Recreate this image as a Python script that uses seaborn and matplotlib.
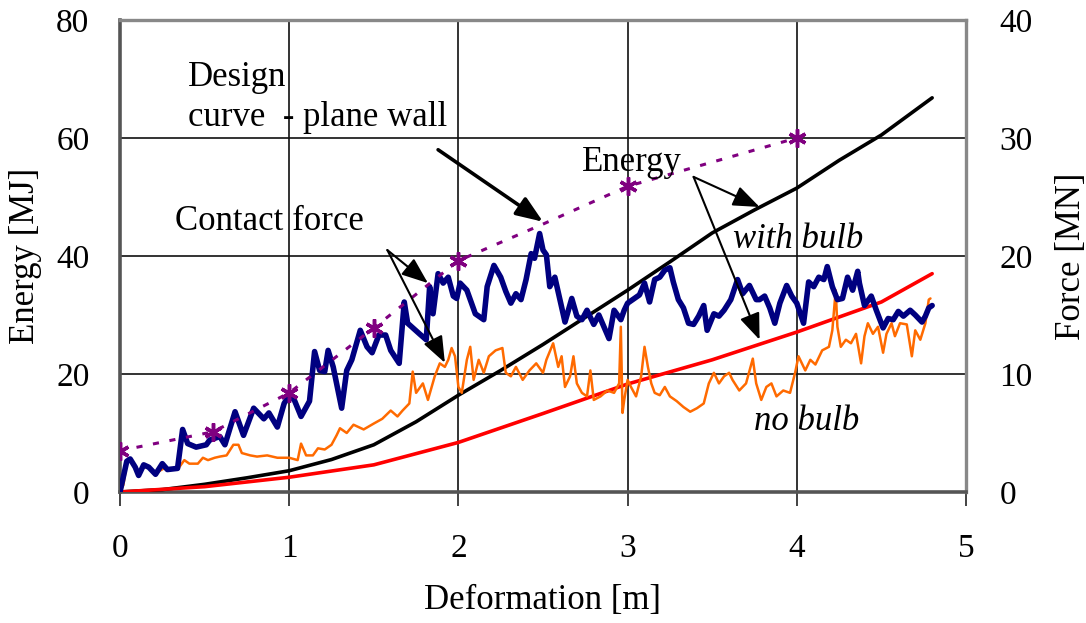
import matplotlib
matplotlib.use("Agg")
import matplotlib.pyplot as plt
import pandas as pd
import seaborn as sns

# energy curves (left axis, MJ)
bulb_energy_x = [0, 0.25, 0.5, 0.75, 1, 1.25, 1.5, 1.75, 2, 2.25, 2.5, 2.75, 3, 3.25, 3.5,
                 3.75, 4, 4.25, 4.5, 4.8]
bulb_energy = [0, 0.4, 1.3, 2.4, 3.6, 5.5, 8.0, 11.9, 16.4, 20.6, 25.0, 29.6, 34.2, 39.0, 43.9,
               47.8, 51.5, 56.2, 60.5, 66.8]
nobulb_energy_x = [0, 0.5, 1, 1.5, 2, 2.5, 3, 3.5, 4, 4.5, 4.8]
nobulb_energy = [0, 0.9, 2.5, 4.6, 8.4, 13.3, 18.3, 22.4, 27.1, 32.2, 37.0]

# design curve - plane wall (right axis, MN)
design_x = [0, 0.55, 1, 1.5, 2, 2.5, 3, 4]
design_force = [3.5, 5.1, 8.4, 13.9, 19.6, 22.7, 25.9, 30.0]

# contact force with bulb (right axis, MN)
bulb_force_x = [0.00, 0.04, 0.06, 0.09, 0.11, 0.14, 0.17, 0.21, 0.25, 0.28, 0.34, 0.37, 0.40,
                0.45, 0.51, 0.53, 0.59, 0.62, 0.68, 0.73, 0.79, 0.85, 0.88, 0.93, 0.97, 1.00,
                1.03, 1.07, 1.12, 1.15, 1.18, 1.21, 1.23, 1.26, 1.31, 1.34, 1.37, 1.42, 1.46,
                1.49, 1.53, 1.57, 1.60, 1.65, 1.68, 1.70, 1.77, 1.81, 1.83, 1.85, 1.88, 1.91,
                1.94, 1.97, 1.99, 2.01, 2.05, 2.10, 2.15, 2.17, 2.21, 2.25, 2.28, 2.31, 2.34,
                2.37, 2.40, 2.43, 2.45, 2.48, 2.50, 2.52, 2.54, 2.57, 2.60, 2.63, 2.67, 2.70,
                2.73, 2.76, 2.80, 2.83, 2.86, 2.89, 2.92, 2.96, 2.98, 3.00, 3.04, 3.07, 3.10,
                3.13, 3.16, 3.19, 3.22, 3.25, 3.27, 3.30, 3.33, 3.36, 3.39, 3.42, 3.45, 3.47,
                3.51, 3.54, 3.57, 3.61, 3.65, 3.68, 3.72, 3.76, 3.78, 3.81, 3.84, 3.87, 3.90,
                3.94, 3.97, 4.00, 4.04, 4.07, 4.10, 4.13, 4.16, 4.18, 4.21, 4.24, 4.27, 4.30,
                4.33, 4.36, 4.37, 4.40, 4.44, 4.47, 4.51, 4.54, 4.57, 4.60, 4.63, 4.67, 4.70,
                4.74, 4.76, 4.78, 4.80]
bulb_force = [0.0, 2.6, 2.8, 2.1, 1.4, 2.3, 2.1, 1.5, 2.4, 1.9, 2.0, 5.3, 4.1,
              3.8, 4.0, 4.4, 4.7, 4.0, 6.8, 4.8, 7.1, 6.2, 6.7, 5.5, 7.5, 8.2,
              7.8, 6.4, 7.7, 11.9, 10.3, 10.2, 12.0, 10.6, 7.1, 10.3, 11.2, 13.7, 12.3,
              11.8, 13.3, 13.3, 12.0, 10.9, 16.1, 14.3, 13.4, 12.9, 17.4, 15.1, 18.5, 17.7,
              18.2, 16.6, 16.4, 17.7, 17.1, 15.1, 14.6, 17.4, 19.2, 18.2, 17.0, 16.0, 16.8,
              16.3, 18.0, 20.2, 19.8, 21.9, 20.5, 20.1, 17.4, 18.2, 16.3, 14.4, 16.4, 14.9,
              14.6, 15.4, 14.2, 15.0, 14.0, 13.0, 15.4, 14.6, 15.4, 16.0, 16.4, 16.7, 17.7,
              16.1, 18.0, 18.2, 18.8, 19.0, 17.8, 16.3, 15.6, 14.3, 14.2, 14.9, 15.8, 13.7,
              15.1, 14.9, 15.4, 16.3, 18.0, 16.8, 17.5, 16.3, 16.3, 16.6, 15.6, 14.3, 16.0,
              17.5, 16.6, 16.0, 14.3, 17.8, 17.4, 18.2, 18.0, 19.1, 17.4, 16.3, 16.4, 18.2,
              17.1, 18.7, 17.7, 15.8, 16.6, 15.4, 13.9, 14.7, 14.6, 15.3, 14.9, 15.4, 15.0,
              14.4, 14.9, 15.6, 15.8]

# contact force no bulb (right axis, MN)
nobulb_force_x = [0.00, 0.02, 0.04, 0.06, 0.09, 0.11, 0.14, 0.17, 0.21, 0.26, 0.34, 0.38, 0.41,
                  0.46, 0.49, 0.52, 0.56, 0.59, 0.63, 0.67, 0.70, 0.72, 0.77, 0.81, 0.87, 0.93,
                  1.00, 1.05, 1.07, 1.10, 1.14, 1.17, 1.21, 1.25, 1.28, 1.30, 1.34, 1.38, 1.44,
                  1.50, 1.55, 1.60, 1.64, 1.67, 1.71, 1.73, 1.75, 1.79, 1.82, 1.86, 1.89, 1.92,
                  1.94, 1.96, 1.98, 2.00, 2.02, 2.05, 2.07, 2.09, 2.12, 2.15, 2.18, 2.22, 2.26,
                  2.28, 2.31, 2.34, 2.38, 2.42, 2.46, 2.50, 2.52, 2.56, 2.59, 2.61, 2.63, 2.66,
                  2.68, 2.70, 2.73, 2.76, 2.78, 2.80, 2.84, 2.88, 2.92, 2.95, 2.96, 2.97, 2.98,
                  3.00, 3.02, 3.05, 3.08, 3.10, 3.12, 3.14, 3.16, 3.19, 3.22, 3.25, 3.29, 3.33,
                  3.37, 3.41, 3.45, 3.48, 3.51, 3.54, 3.57, 3.60, 3.62, 3.66, 3.70, 3.74, 3.76,
                  3.79, 3.82, 3.85, 3.88, 3.92, 3.96, 3.99, 4.01, 4.05, 4.08, 4.11, 4.15, 4.19,
                  4.21, 4.23, 4.24, 4.26, 4.29, 4.32, 4.35, 4.38, 4.40, 4.42, 4.45, 4.48, 4.51,
                  4.53, 4.56, 4.58, 4.61, 4.65, 4.68, 4.70, 4.73, 4.76, 4.78, 4.79]
nobulb_force = [0.0, 0.6, 2.4, 2.8, 2.1, 1.5, 2.1, 2.1, 1.6, 2.0, 1.9, 2.7, 2.4,
                2.4, 2.9, 2.7, 2.9, 3.0, 3.1, 4.0, 4.0, 3.3, 3.1, 3.0, 3.1, 2.9,
                2.9, 2.7, 4.1, 3.1, 3.1, 3.7, 3.6, 4.0, 4.8, 5.4, 5.0, 5.7, 5.3,
                5.8, 6.2, 6.9, 6.4, 6.9, 7.5, 10.2, 8.4, 9.2, 7.8, 9.8, 10.9, 10.6,
                11.2, 12.2, 11.5, 8.9, 8.4, 11.2, 12.3, 9.5, 11.2, 10.1, 11.5, 12.0, 12.2,
                10.1, 9.8, 10.6, 9.5, 10.3, 10.9, 10.1, 11.2, 12.6, 10.6, 11.5, 8.9, 9.8,
                11.5, 9.2, 8.4, 8.1, 10.3, 7.8, 8.1, 8.6, 8.4, 9.2, 14.0, 6.7, 7.8,
                9.5, 8.9, 8.1, 9.8, 12.3, 10.6, 9.2, 8.4, 8.2, 8.9, 8.1, 7.7, 7.2,
                6.8, 7.1, 7.5, 9.2, 10.1, 9.2, 9.8, 10.1, 9.5, 8.6, 9.2, 11.3, 9.2,
                7.8, 8.9, 9.2, 8.1, 8.6, 8.4, 10.1, 11.5, 10.3, 11.2, 10.8, 12.0, 12.3,
                13.7, 17.1, 14.0, 12.3, 12.9, 12.6, 13.4, 10.9, 13.2, 14.3, 13.4, 14.0, 11.8,
                13.4, 14.3, 13.2, 14.3, 14.2, 11.5, 13.7, 12.9, 14.3, 16.3, 16.4]

x_ticks = [0, 1, 2, 3, 4, 5]
energy_ticks = [0, 20, 40, 60, 80]
force_ticks = [0, 10, 20, 30, 40]

sns.set_style("white")
plt.rcParams["font.family"] = ["Liberation Serif", "DejaVu Serif"]
plt.rcParams["text.color"] = "black"
plt.rcParams["axes.labelcolor"] = "black"
plt.rcParams["xtick.color"] = "black"
plt.rcParams["ytick.color"] = "black"

fig = plt.figure(figsize=(10.86, 6.23), dpi=100)
ax = fig.add_axes([0.1105, 0.2103, 0.779, 0.7577])
ax2 = ax.twinx()

sns.lineplot(x=bulb_energy_x, y=bulb_energy, ax=ax, color="black", lw=2.6,
             estimator=None, zorder=3)
sns.lineplot(x=nobulb_energy_x, y=nobulb_energy, ax=ax, color="#ff0000", lw=2.6,
             estimator=None, zorder=3)

sns.lineplot(x=nobulb_force_x, y=nobulb_force, ax=ax2, color="#ff6a00", lw=1.8,
             estimator=None)
sns.lineplot(x=bulb_force_x, y=bulb_force, ax=ax2, color="#000080", lw=4,
             estimator=None)
sns.lineplot(x=design_x, y=design_force, ax=ax2, color="#800080", lw=2.2,
             linestyle=(0, (2, 3.5)), marker=(6, 2, 0), markersize=13, mew=2.5,
             mec="#800080", mfc="#800080",
             markevery=[0, 1, 2, 3, 4, 6, 7], estimator=None)

ax.set_xlim(0, 5)
ax.set_ylim(0, 80)
ax2.set_ylim(0, 40)
ax.set_xticks(x_ticks)
ax.set_yticks(energy_ticks)
ax2.set_yticks(force_ticks)

ax.grid(True, color="#111111", lw=1.2)
ax2.grid(False)
ax.tick_params(axis="x", direction="out", length=10, width=1.2, color="#222222",
               labelsize=24, pad=20, bottom=True)
ax.tick_params(axis="y", length=0, labelsize=24, pad=22)
ax2.tick_params(axis="y", length=0, labelsize=24, pad=24)

ax.set_xlabel("Deformation [m]", fontsize=25, labelpad=14)
ax.set_ylabel("Energy [MJ]", fontsize=25, labelpad=10)
ax2.set_ylabel("Force [MN]", fontsize=25, labelpad=16)

for side in ["left", "bottom"]:
    ax.spines[side].set_color("#555555")
    ax.spines[side].set_linewidth(2.6)
for side in ["top", "right"]:
    ax.spines[side].set_color("#888888")
    ax.spines[side].set_linewidth(2.4)
for s in ax2.spines.values():
    s.set_visible(False)

txt = dict(fontsize=25, va="center", ha="left", color="black")
ax2.text(0.40, 35.1, "Design", **txt)
ax2.text(0.40, 31.7, "curve  - plane wall", **txt)
ax2.text(0.325, 22.9, "Contact force", **txt)
ax2.text(2.73, 27.9, "Energy", **txt)
ax2.text(3.62, 21.4, "with bulb", style="italic", **txt)
ax2.text(3.75, 6.0, "no bulb", style="italic", **txt)

thick = dict(arrowstyle="-|>,head_length=0.9,head_width=0.35", color="black", lw=2.6,
             shrinkA=0, shrinkB=0, mutation_scale=18)
thin = dict(arrowstyle="-|>,head_length=0.9,head_width=0.35", color="black", lw=1.5,
            shrinkA=0, shrinkB=0, mutation_scale=18)
ax2.annotate("", xy=(2.50, 22.9), xytext=(1.88, 29.0), arrowprops=thick)
ax2.annotate("", xy=(1.82, 17.7), xytext=(1.58, 20.5), arrowprops=thin)
ax2.annotate("", xy=(1.92, 10.95), xytext=(1.58, 20.5), arrowprops=thin)
ax2.annotate("", xy=(3.78, 24.15), xytext=(3.39, 26.7), arrowprops=thin)
ax2.annotate("", xy=(3.78, 12.9), xytext=(3.39, 26.7), arrowprops=thin)

fig.savefig("out.png", dpi=100)
